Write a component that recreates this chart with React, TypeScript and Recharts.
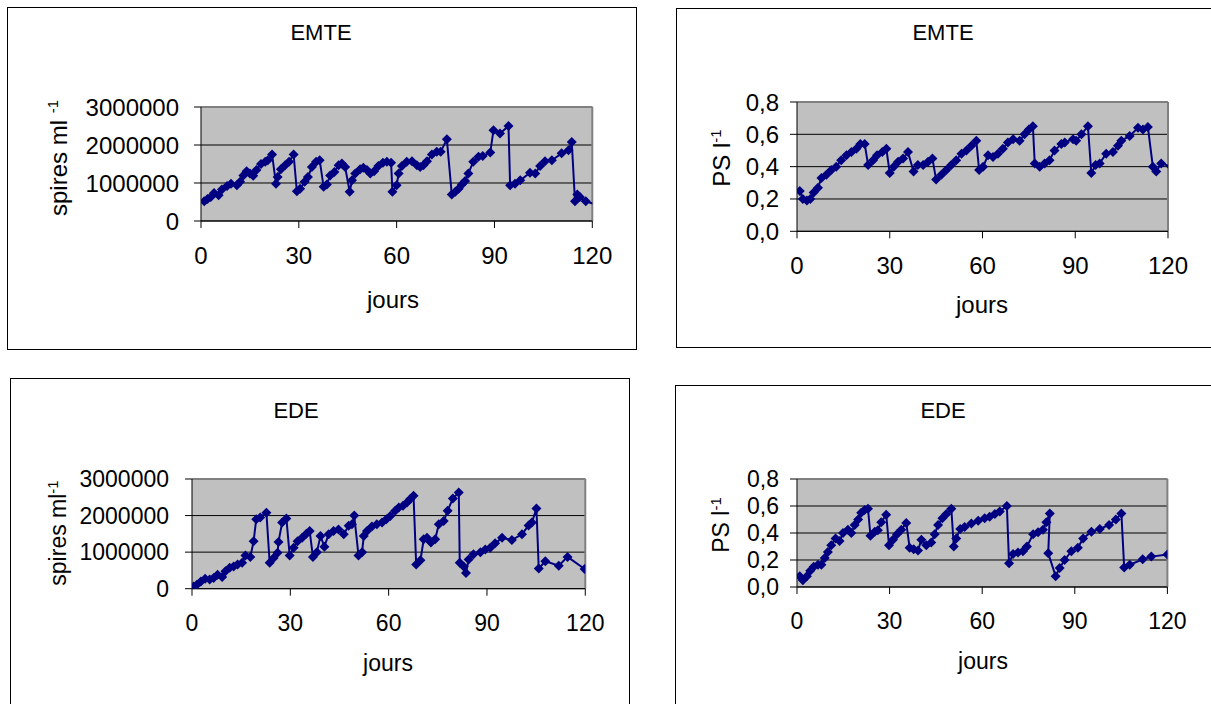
import { LineChart, Line, XAxis, YAxis, CartesianGrid, ReferenceLine } from "recharts"

const FONT = "Arial, 'Liberation Sans', sans-serif"
const NAVY = "#000080"

const dayTicks = [0, 30, 60, 90, 120]
const spiresTicks = [0, 1000000, 2000000, 3000000]
const psTicks = [0, 0.2, 0.4, 0.6, 0.8]

// EMTE - spires ml-1
const emteSpiresDays = [1, 2, 3, 4, 5.4, 6.4, 8, 9.2, 11, 12, 13, 14, 15, 16, 17, 18.4, 19.7, 20.5, 21.8, 23, 23.5, 24.5, 25.8, 27, 28.4, 29.4, 30.4, 31.8, 32.8, 34, 35.3, 36.4, 37.6, 38.6, 39.6, 40.9, 42.2, 43.2, 44.2, 45.6, 46.3, 47.3, 48.8, 49.8, 50.9, 51.9, 53.1, 54.4, 55.8, 57, 58.3, 58.7, 60, 60.6, 61.6, 63.1, 64.7, 66.2, 67.2, 68.2, 69.3, 70.8, 72.3, 73.5, 75.4, 76.9, 78, 79, 80, 81, 82, 83.5, 85.1, 86.4, 88.7, 89.7, 91.7, 94.3, 94.8, 96.3, 97.9, 100.9, 102.5, 104, 105.5, 107.6, 110.6, 112.7, 113.7, 114.7, 115.4, 116.2, 118, 121.8]
const emteSpiresValues = [520000, 580000, 630000, 740000, 680000, 830000, 920000, 980000, 940000, 1030000, 1200000, 1310000, 1250000, 1190000, 1340000, 1500000, 1560000, 1600000, 1750000, 980000, 1160000, 1360000, 1470000, 1560000, 1750000, 780000, 850000, 1030000, 1160000, 1420000, 1560000, 1600000, 900000, 960000, 1200000, 1290000, 1470000, 1510000, 1420000, 770000, 1070000, 1250000, 1360000, 1400000, 1340000, 1250000, 1310000, 1450000, 1530000, 1560000, 1530000, 770000, 940000, 1250000, 1450000, 1560000, 1570000, 1470000, 1420000, 1470000, 1570000, 1750000, 1820000, 1820000, 2150000, 700000, 770000, 850000, 960000, 1050000, 1250000, 1560000, 1690000, 1710000, 1800000, 2390000, 2300000, 2500000, 940000, 980000, 1070000, 1270000, 1250000, 1450000, 1570000, 1600000, 1780000, 1860000, 2080000, 520000, 700000, 630000, 520000, 410000]

// EMTE - PS l-1
const emtePsDays = [0.9, 1.9, 3.2, 4.3, 5.4, 6.8, 7.9, 9.5, 11.1, 12.7, 14.3, 16, 17.6, 19.2, 20.5, 21.9, 23, 24.6, 25.9, 27.6, 28.9, 30, 31.3, 32.7, 34.3, 35.9, 37.7, 39.1, 40.8, 42.4, 43.8, 45, 46.7, 48.3, 49.9, 51.5, 53.2, 54.8, 56.4, 58, 58.9, 60.2, 61.8, 63.4, 65, 66.6, 68.2, 69.9, 72, 73.6, 75, 76.3, 76.9, 78.5, 80.1, 81.7, 83.3, 85.5, 86.6, 89.3, 90.3, 92, 94.1, 95.2, 96.6, 97.9, 100, 102.2, 103.8, 104.9, 107.6, 110.3, 111.9, 113.5, 115.1, 116.2, 117.8, 121]
const emtePsValues = [0.25, 0.2, 0.19, 0.2, 0.24, 0.27, 0.33, 0.35, 0.38, 0.4, 0.44, 0.47, 0.49, 0.51, 0.54, 0.54, 0.41, 0.44, 0.47, 0.49, 0.51, 0.36, 0.4, 0.43, 0.45, 0.49, 0.37, 0.41, 0.41, 0.43, 0.45, 0.32, 0.35, 0.38, 0.41, 0.44, 0.48, 0.5, 0.53, 0.56, 0.38, 0.4, 0.47, 0.46, 0.48, 0.51, 0.55, 0.57, 0.56, 0.6, 0.63, 0.65, 0.42, 0.4, 0.42, 0.44, 0.5, 0.54, 0.55, 0.57, 0.56, 0.6, 0.65, 0.36, 0.41, 0.42, 0.48, 0.49, 0.53, 0.56, 0.59, 0.64, 0.63, 0.645, 0.4, 0.37, 0.42, 0.4]

// EDE - spires ml-1
const edeSpiresDays = [0.5, 1.5, 2.7, 4, 5.4, 6.6, 7.8, 9.2, 10.2, 11.5, 12.7, 13.9, 15.3, 16.3, 17.8, 18.8, 19.6, 20.8, 22.7, 23.7, 24.9, 26.1, 26.4, 27.5, 28.8, 29.8, 31, 32.2, 33.6, 34.9, 35.9, 36.9, 38.1, 39.2, 40.4, 41.7, 43.2, 44.7, 46.3, 47.8, 48.8, 49.5, 50.8, 51.9, 52.4, 53.4, 54.9, 56.4, 58, 59.3, 60.5, 62, 63.1, 64.4, 65.6, 66.6, 67.6, 68.4, 69.7, 70.7, 71.7, 72.9, 74.2, 75.3, 76.8, 78, 79.6, 81.4, 81.7, 82.9, 83.6, 84.4, 85.9, 88, 89.5, 91, 92.5, 94.6, 97.6, 100.7, 102.7, 103.7, 105.1, 105.8, 107.8, 111.9, 114.6, 119.8]
const edeSpiresValues = [60000, 110000, 200000, 270000, 250000, 290000, 380000, 320000, 480000, 570000, 610000, 660000, 710000, 910000, 870000, 1300000, 1900000, 1950000, 2080000, 710000, 840000, 980000, 1280000, 1810000, 1920000, 910000, 1120000, 1300000, 1390000, 1500000, 1580000, 870000, 1000000, 1440000, 1150000, 1490000, 1580000, 1620000, 1490000, 1720000, 1760000, 2000000, 910000, 1000000, 1440000, 1580000, 1700000, 1760000, 1810000, 1900000, 1990000, 2130000, 2220000, 2270000, 2360000, 2450000, 2540000, 660000, 780000, 1350000, 1390000, 1260000, 1350000, 1760000, 1850000, 2130000, 2470000, 2630000, 710000, 610000, 430000, 800000, 940000, 1000000, 1070000, 1120000, 1240000, 1390000, 1330000, 1490000, 1730000, 1810000, 2190000, 550000, 750000, 630000, 870000, 540000]

// EDE - PS l-1
const edePsDays = [0.9, 1.9, 3.2, 4.3, 5.4, 6.8, 7.9, 9, 10, 11.1, 12.5, 13.8, 14.9, 16.5, 17.6, 18.7, 19.8, 20.8, 21.9, 23, 23.8, 25.2, 26.2, 27.3, 28.9, 29.8, 31.1, 32.4, 33.8, 35.4, 36.5, 37.8, 39.2, 40.3, 41.9, 43.5, 44.6, 45.7, 47.1, 48.4, 50, 50.8, 51.6, 52.9, 54.3, 56.5, 58.7, 60.8, 62.4, 64.1, 65.7, 68, 68.7, 70, 71.6, 73.2, 74.5, 76.5, 78.1, 79.7, 80.8, 81.9, 81.4, 83.8, 85.1, 86.7, 88.9, 91, 92.7, 95.4, 98.1, 101.1, 103.3, 105.1, 106, 107.8, 112, 114.8, 120]
const edePsValues = [0.08, 0.05, 0.08, 0.12, 0.15, 0.165, 0.165, 0.215, 0.26, 0.31, 0.36, 0.34, 0.4, 0.425, 0.4, 0.46, 0.5, 0.55, 0.57, 0.58, 0.38, 0.41, 0.42, 0.48, 0.535, 0.31, 0.35, 0.39, 0.425, 0.475, 0.29, 0.28, 0.27, 0.35, 0.31, 0.33, 0.39, 0.46, 0.51, 0.54, 0.58, 0.3, 0.36, 0.43, 0.445, 0.47, 0.49, 0.51, 0.52, 0.54, 0.56, 0.6, 0.175, 0.245, 0.255, 0.265, 0.3, 0.39, 0.405, 0.425, 0.48, 0.545, 0.25, 0.08, 0.14, 0.2, 0.265, 0.29, 0.36, 0.41, 0.43, 0.46, 0.5, 0.545, 0.145, 0.165, 0.205, 0.225, 0.24]

const toRows = (days: number[], values: number[]) => days.map((d, i) => ({ day: d, v: values[i] }))

const Diamond = (props: any) => {
  const { cx, cy, index } = props
  if (cx == null || cy == null) return <g key={`d${index}`} />
  const r = 5
  return <path key={`d${index}`} d={`M${cx},${cy - r}L${cx + r},${cy}L${cx},${cy + r}L${cx - r},${cy}Z`} fill={NAVY} />
}

type Box = { x: number; y: number; w: number; h: number }
type PanelProps = {
  frame: Box
  title: string
  titleAt: [number, number]
  plot: { x1: number; x2: number; y1: number; y2: number }
  yTicks: number[]
  fmt: (v: number) => string
  ylabel: string
  ylabelAt: [number, number]
  joursAt: [number, number]
  yTickMargin: number
  fontSize: number
  days: number[]
  values: number[]
}

function Panel(p: PanelProps) {
  const yMax = p.yTicks[p.yTicks.length - 1]
  const axisW = 150
  const padTop = 25
  const left = p.plot.x1 - axisW
  const top = p.plot.y1 - padTop
  const width = p.plot.x2 - left + 20
  const height = p.plot.y2 - top + 50
  const text = { position: "absolute" as const, fontFamily: FONT, fontSize: p.fontSize, color: "#000", whiteSpace: "nowrap" as const }
  const tick = { fill: "#000", fontSize: p.fontSize, fontFamily: FONT }
  return (
    <>
      <div style={{ position: "absolute", left: p.frame.x, top: p.frame.y, width: p.frame.w, height: p.frame.h, border: "1px solid #000", background: "#fff", boxSizing: "border-box" }} />
      <div style={{ ...text, fontSize: 22, left: p.titleAt[0], top: p.titleAt[1], transform: "translate(-50%,-50%)" }}>{p.title}</div>
      <div style={{ ...text, left: p.joursAt[0], top: p.joursAt[1], transform: "translate(-50%,-50%)" }}>jours</div>
      <div style={{ ...text, left: p.ylabelAt[0], top: p.ylabelAt[1], transform: "translate(-50%,-50%) rotate(-90deg)" }}>
        {p.ylabel}
        <sup style={{ fontSize: 15 }}>-1</sup>
      </div>
      <div style={{ position: "absolute", left, top }}>
        <LineChart width={width} height={height} data={toRows(p.days, p.values)} margin={{ top: padTop, right: 20, bottom: 0, left: 0 }}>
          <CartesianGrid vertical={false} stroke="#000" fill="#C0C0C0" fillOpacity={1} />
          <XAxis
            type="number"
            dataKey="day"
            domain={[0, 120]}
            ticks={dayTicks}
            interval={0}
            allowDataOverflow
            height={50}
            tickSize={7}
            tickMargin={19}
            axisLine={{ stroke: "#000" }}
            tickLine={{ stroke: "#000" }}
            tick={tick}
          />
          <YAxis
            type="number"
            domain={[0, yMax]}
            ticks={p.yTicks}
            interval={0}
            allowDataOverflow
            width={axisW}
            tickSize={7}
            tickMargin={p.yTickMargin}
            tickFormatter={p.fmt}
            axisLine={{ stroke: "#000" }}
            tickLine={{ stroke: "#000" }}
            tick={tick}
          />
          <ReferenceLine y={yMax} stroke="#808080" strokeWidth={2} />
          <ReferenceLine x={120} stroke="#808080" strokeWidth={2} />
          <Line type="linear" dataKey="v" stroke={NAVY} strokeWidth={2} dot={Diamond} activeDot={false} isAnimationActive={false} />
        </LineChart>
      </div>
    </>
  )
}

const fmtSpires = (v: number) => String(v)
const fmtPs = (v: number) => v.toFixed(1).replace(".", ",")

export default function App() {
  return (
    <div style={{ position: "absolute", left: 0, top: 0, width: 1211, height: 704, overflow: "hidden", background: "#fff" }}>
      <Panel
        frame={{ x: 7, y: 7, w: 630, h: 343 }}
        title="EMTE"
        titleAt={[321, 33]}
        plot={{ x1: 200.7, x2: 592, y1: 107, y2: 221 }}
        yTicks={spiresTicks}
        fmt={fmtSpires}
        ylabel="spires ml "
        ylabelAt={[58, 158]}
        joursAt={[393, 300]}
        yTickMargin={15}
        fontSize={24}
        days={emteSpiresDays}
        values={emteSpiresValues}
      />
      <Panel
        frame={{ x: 676, y: 8, w: 540, h: 340 }}
        title="EMTE"
        titleAt={[943, 33]}
        plot={{ x1: 797.3, x2: 1168.3, y1: 101.7, y2: 231 }}
        yTicks={psTicks}
        fmt={fmtPs}
        ylabel="PS l"
        ylabelAt={[721, 158]}
        joursAt={[982, 305]}
        yTickMargin={11}
        fontSize={24}
        days={emtePsDays}
        values={emtePsValues}
      />
      <Panel
        frame={{ x: 10, y: 378, w: 620, h: 340 }}
        title="EDE"
        titleAt={[296, 411]}
        plot={{ x1: 191.7, x2: 585, y1: 479.3, y2: 589 }}
        yTicks={spiresTicks}
        fmt={fmtSpires}
        ylabel="spires ml"
        ylabelAt={[58, 533]}
        joursAt={[388, 663]}
        yTickMargin={16}
        fontSize={23}
        days={edeSpiresDays}
        values={edeSpiresValues}
      />
      <Panel
        frame={{ x: 675, y: 385, w: 540, h: 330 }}
        title="EDE"
        titleAt={[943, 411]}
        plot={{ x1: 797.3, x2: 1167.7, y1: 479.3, y2: 587.3 }}
        yTicks={psTicks}
        fmt={fmtPs}
        ylabel="PS l"
        ylabelAt={[721, 525]}
        joursAt={[983, 661]}
        yTickMargin={11}
        fontSize={23}
        days={edePsDays}
        values={edePsValues}
      />
    </div>
  )
}
